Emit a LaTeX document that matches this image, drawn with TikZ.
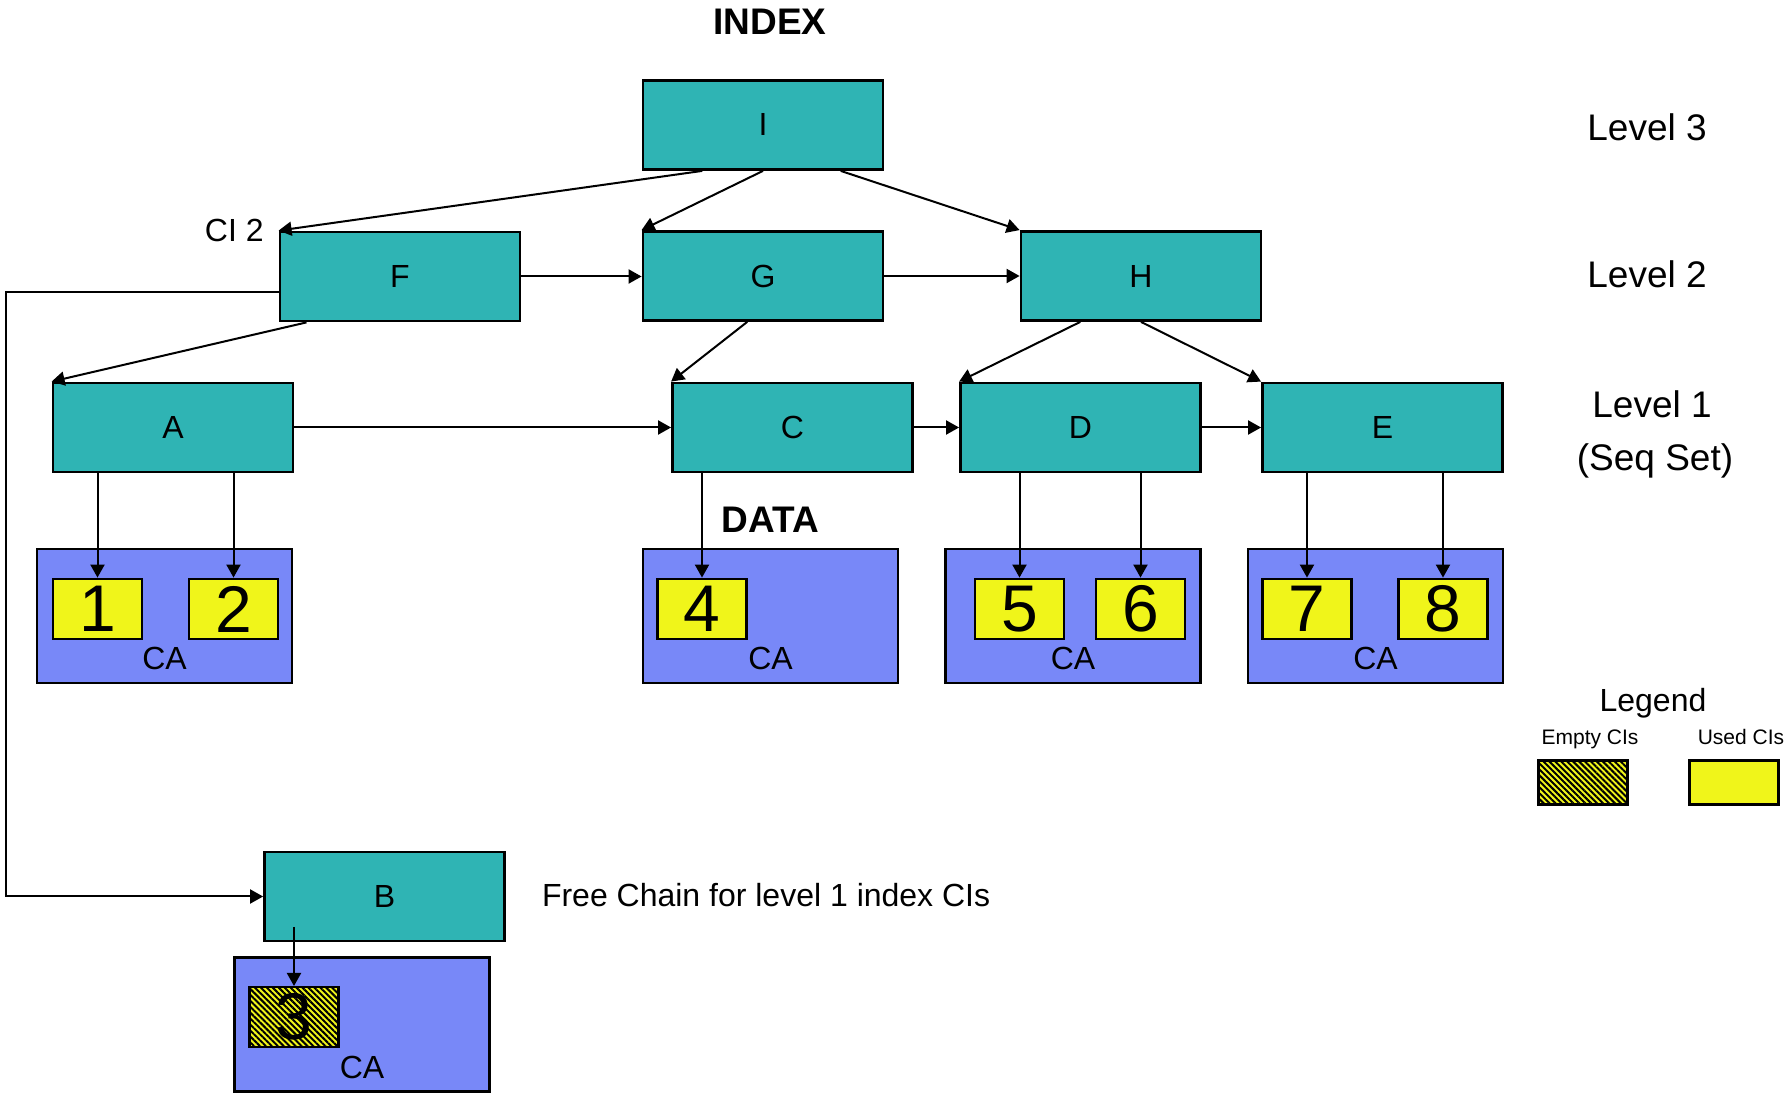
\documentclass[tikz,border=0pt]{standalone}
\usepackage{fontspec}
\setmainfont{Liberation Sans}
\usetikzlibrary{arrows.meta,patterns.meta,calc}
\definecolor{idxteal}{HTML}{2FB4B4}
\definecolor{cablue}{HTML}{7888F8}
\definecolor{cellyel}{HTML}{F0F51A}
\tikzset{
 idx/.style={draw=black, line width=1.4pt, fill=idxteal, minimum width=120pt, minimum height=44.5pt, inner sep=0pt, font=\fontsize{16}{19}\selectfont},
 cabox/.style={draw=black, line width=1.4pt, fill=cablue, minimum width=127.5pt, minimum height=67pt, inner sep=0pt},
 cell/.style={draw=black, line width=1.4pt, fill=cellyel, minimum width=44.5pt, minimum height=30pt, inner sep=0pt, font=\fontsize{33}{38}\selectfont},
 emptycell/.style={draw=black, line width=1.4pt, minimum width=44.5pt, minimum height=30pt, inner sep=0pt, font=\fontsize{33}{38}\selectfont, preaction={fill=cellyel}, pattern={Lines[angle=-45,distance=2.1pt,line width=1pt]}, pattern color=black},
 conn/.style={line width=1pt, -{Triangle[length=6.5pt,width=7pt]}},
 txt/.style={inner sep=0pt, anchor=base, font=\fontsize{16}{19}\selectfont},
 lvl/.style={inner sep=0pt, anchor=base, font=\fontsize{18.5}{22}\selectfont},
 ttl/.style={inner sep=0pt, anchor=base, font=\fontsize{18.5}{22}\selectfont\bfseries},
 smalltxt/.style={inner sep=0pt, anchor=base, font=\fontsize{10.5}{12}\selectfont},
}
\begin{document}
\begin{tikzpicture}[x=0.5pt,y=-0.5pt]
\useasboundingbox (0,0) rectangle (1790,1095);
\fill[white] (0,0) rectangle (1790,1095);

% index nodes
\node[idx] (I) at (763,125) {I};
\node[idx] (F) at (400,276.5) {F};
\node[idx] (G) at (763,276) {G};
\node[idx] (H) at (1141,276) {H};
\node[idx] (A) at (173,427.5) {A};
\node[idx] (C) at (792.5,427.5) {C};
\node[idx] (D) at (1080.5,427.5) {D};
\node[idx] (E) at (1382.5,427.5) {E};
\node[idx] (B) at (384.5,896.5) {B};

% control areas
\node[cabox] (caA) at (164.5,616) {};
\node[cabox] (caC) at (770.5,616) {};
\node[cabox] (caD) at (1073,616) {};
\node[cabox] (caE) at (1375.5,616) {};
\node[cabox] (caB) at (362,1024.5) {};
\node[txt] (laA) at (164.5,670) {CA};
\node[txt] (laC) at (770.5,670) {CA};
\node[txt] (laD) at (1073,670) {CA};
\node[txt] (laE) at (1375.5,670) {CA};
\node[txt] (laB) at (362,1079) {CA};

% control intervals
\node[cell] (c1) at (97.5,609) {1};
\node[cell] (c2) at (233.5,609) {2};
\node[cell] (c4) at (702,609) {4};
\node[cell] (c5) at (1019.5,609) {5};
\node[cell] (c6) at (1140.5,609) {6};
\node[cell] (c7) at (1307,609) {7};
\node[cell] (c8) at (1443,609) {8};
\node[emptycell] (c3) at (294,1017) {3};

% tree connectors
\draw[conn] ($(I.south west)!0.25!(I.south east)$) -- (F.north west);
\draw[conn] (I.south) -- (G.north west);
\draw[conn] ($(I.south west)!0.82!(I.south east)$) -- (H.north west);
\draw[conn] ($(F.south west)!0.115!(F.south east)$) -- (A.north west);
\draw[conn] ($(G.south west)!0.435!(G.south east)$) -- (C.north west);
\draw[conn] ($(H.south west)!0.25!(H.south east)$) -- (D.north west);
\draw[conn] (H.south) -- (E.north west);

% horizontal chains
\draw[conn] (F.east) -- (F.east -| G.west);
\draw[conn] (G.east) -- (H.west);
\draw[conn] (A.east) -- (C.west);
\draw[conn] (C.east) -- (D.west);
\draw[conn] (D.east) -- (E.west);

% down to CIs
\draw[conn] (A.south -| c1.north) -- (c1.north);
\draw[conn] (A.south -| c2.north) -- (c2.north);
\draw[conn] (C.south -| c4.north) -- (c4.north);
\draw[conn] (D.south -| c5.north) -- (c5.north);
\draw[conn] (D.south -| c6.north) -- (c6.north);
\draw[conn] (E.south -| c7.north) -- (c7.north);
\draw[conn] (E.south -| c8.north) -- (c8.north);

% free chain
\coordinate (fcs) at ($(F.west)+(0,15.5)$);
\coordinate (fcc) at (6,292);
\draw[conn] (fcs) -- (fcc) |- (B.west);
\coordinate (bs) at (294,927);
\draw[conn] (bs) -- (c3.north);

% titles and labels
\node[ttl] (index) at (770,35) {INDEX};
\node[ttl] (data) at (770.5,533) {DATA};
\node[txt, anchor=base east] (ci2) at (264,241.7) {CI 2};
\node[lvl] (l3) at (1647,141) {Level 3};
\node[lvl] (l2) at (1647,288) {Level 2};
\node[lvl] (l1) at (1652,418) {Level 1};
\node[lvl] (seq) at (1655,471) {(Seq Set)};
\node[txt, anchor=base west] (free) at (541.6,906.7) {Free Chain for level 1 index CIs};

% legend
\node[txt] (leg) at (1653,711.7) {Legend};
\node[smalltxt] (legE) at (1590,745) {Empty CIs};
\node[smalltxt] (legU) at (1741,745) {Used CIs};
\node[emptycell, minimum height=22pt] (lgE) at (1583,782.5) {};
\node[cell, minimum height=22pt] (lgU) at (1734,782.5) {};
\end{tikzpicture}
\end{document}
